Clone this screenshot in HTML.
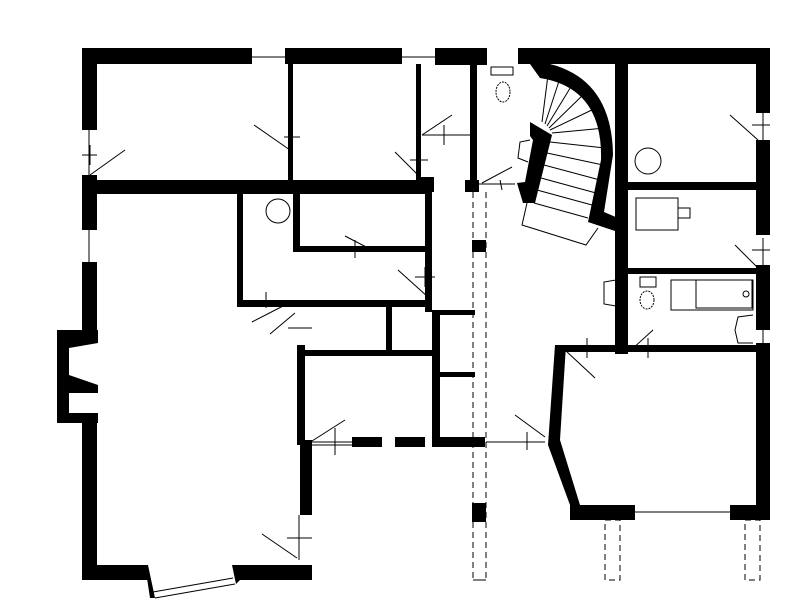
<!DOCTYPE html>
<html><head><meta charset="utf-8"><style>html,body{margin:0;background:#fff}svg{display:block}</style></head>
<body>
<svg width="797" height="600" viewBox="0 0 797 600" xmlns="http://www.w3.org/2000/svg">
<rect width="797" height="600" fill="#fff"/>
<g fill="#000">
<rect x="82" y="48" width="170" height="16"/>
<rect x="285" y="48" width="117" height="16"/>
<rect x="435" y="48" width="52" height="17"/>
<rect x="518" y="48" width="252" height="16"/>
<rect x="756" y="48" width="14" height="65"/>
<rect x="756" y="140" width="14" height="95"/>
<rect x="756" y="265" width="14" height="65"/>
<rect x="756" y="343" width="14" height="177"/>
<rect x="82" y="48" width="15" height="82"/>
<rect x="82" y="175" width="15" height="55"/>
<rect x="82" y="262" width="15" height="68"/>
<rect x="57" y="330" width="41" height="93"/>
<rect x="82" y="420" width="15" height="160"/>
<rect x="82" y="565" width="66" height="15"/>
<polygon points="145,565 148,565 155,598 150,598"/>
<polygon points="232,565 312,565 312,580 240,580 236,584"/>
<rect x="82" y="180" width="350" height="14"/>
<rect x="465" y="180" width="14" height="12"/>
<rect x="288" y="64" width="5" height="116"/>
<rect x="416" y="64" width="5" height="116"/>
<rect x="470" y="64" width="7" height="120"/>
<rect x="416" y="177" width="18" height="15"/>
<path d="M530,64 L550,64 Q612,80 613,155 L604,212 L618,218 L618,232 L588,222 L601,160 Q603,88 540,78 Z"/>
<polygon points="530,122 552,135 535,203 523,203 517,183 525,182 533,140 530,136"/>
<rect x="615" y="64" width="13" height="290"/>
<rect x="628" y="182" width="142" height="8"/>
<rect x="628" y="268" width="142" height="6"/>
<rect x="560" y="345" width="210" height="7"/>
<polygon points="555,345 566,345 560,440 580,505 570,505 548,445"/>
<rect x="570" y="505" width="65" height="15"/>
<rect x="730" y="505" width="40" height="15"/>
<rect x="237" y="192" width="6" height="113"/>
<rect x="237" y="300" width="50" height="7"/>
<rect x="285" y="300" width="145" height="7"/>
<rect x="293" y="192" width="7" height="60"/>
<rect x="293" y="246" width="135" height="6"/>
<rect x="425" y="192" width="7" height="120"/>
<rect x="432" y="310" width="8" height="137"/>
<rect x="386" y="307" width="6" height="45"/>
<rect x="297" y="350" width="143" height="6"/>
<rect x="297" y="345" width="8" height="100"/>
<rect x="300" y="440" width="12" height="75"/>
<rect x="440" y="372" width="35" height="5"/>
<rect x="440" y="437" width="45" height="10"/>
<rect x="352" y="437" width="30" height="10"/>
<rect x="395" y="437" width="30" height="10"/>
<rect x="472" y="240" width="14" height="12"/>
<rect x="472" y="503" width="14" height="19"/>
<rect x="440" y="310" width="35" height="5"/>
</g>
<g fill="#fff">
<polygon points="69,348 98,343 98,385 69,375"/>
<rect x="69" y="393" width="29" height="20"/>
</g>
<g fill="none" stroke="#000" stroke-width="1">
<line x1="473" y1="192" x2="473" y2="580" stroke-dasharray="6,4"/>
<line x1="486" y1="192" x2="486" y2="580" stroke-dasharray="6,4"/>
<line x1="473" y1="580" x2="486" y2="580"/>
<rect x="605" y="520" width="15" height="60" stroke-dasharray="6,4"/>
<rect x="745" y="520" width="15" height="60" stroke-dasharray="6,4"/>
<line x1="542" y1="122" x2="548" y2="75"/><line x1="545" y1="124" x2="560" y2="78"/>
<line x1="547" y1="126" x2="572" y2="85"/><line x1="549" y1="128" x2="585" y2="93"/>
<line x1="550" y1="130" x2="596" y2="108"/><line x1="552" y1="133" x2="605" y2="128"/>
<line x1="550" y1="142" x2="605" y2="148"/><line x1="547" y1="153" x2="603" y2="165"/>
<line x1="544" y1="165" x2="600" y2="180"/><line x1="541" y1="178" x2="596" y2="193"/>
<line x1="537" y1="190" x2="592" y2="205"/><line x1="534" y1="203" x2="588" y2="218"/>
<polyline points="527,203 522,225 586,245 598,228"/>
<line x1="254" y1="125" x2="290" y2="150"/><line x1="284" y1="137" x2="300" y2="137"/><line x1="292" y1="128" x2="292" y2="146"/>
<line x1="125" y1="150" x2="90" y2="175"/><line x1="82" y1="155" x2="97" y2="155"/><line x1="90" y1="145" x2="90" y2="165"/>
<line x1="395" y1="152" x2="418" y2="175"/><line x1="410" y1="160" x2="428" y2="160"/><line x1="420" y1="150" x2="420" y2="170"/>
<line x1="422" y1="135" x2="452" y2="115"/><line x1="422" y1="135" x2="470" y2="135"/><line x1="444" y1="125" x2="444" y2="145"/>
<line x1="482" y1="183" x2="512" y2="167"/><line x1="479" y1="184" x2="515" y2="184"/><line x1="500" y1="180" x2="502" y2="190"/>
<line x1="730" y1="115" x2="758" y2="140"/><line x1="752" y1="125" x2="770" y2="125"/>
<line x1="735" y1="245" x2="758" y2="268"/><line x1="752" y1="250" x2="770" y2="250"/><line x1="763" y1="238" x2="763" y2="268"/>
<line x1="345" y1="236" x2="372" y2="250"/><line x1="355" y1="240" x2="355" y2="258"/>
<line x1="398" y1="270" x2="428" y2="297"/><line x1="415" y1="277" x2="435" y2="277"/><line x1="425" y1="267" x2="425" y2="287"/>
<line x1="252" y1="322" x2="285" y2="305"/><line x1="270" y1="334" x2="295" y2="313"/><line x1="288" y1="328" x2="312" y2="328"/><line x1="266" y1="292" x2="266" y2="308"/>
<line x1="312" y1="441" x2="345" y2="420"/><line x1="335" y1="428" x2="335" y2="455"/><line x1="312" y1="442" x2="352" y2="442"/>
<line x1="262" y1="534" x2="297" y2="558"/><line x1="287" y1="538" x2="312" y2="538"/><line x1="299" y1="515" x2="299" y2="560"/>
<line x1="565" y1="350" x2="595" y2="378"/><line x1="587" y1="338" x2="587" y2="358"/><line x1="568" y1="350" x2="615" y2="350"/>
<line x1="631" y1="350" x2="653" y2="330"/><line x1="648" y1="338" x2="648" y2="358"/>
<line x1="515" y1="415" x2="545" y2="437"/><line x1="486" y1="442" x2="545" y2="442"/><line x1="527" y1="432" x2="527" y2="450"/>
<line x1="155" y1="598" x2="235" y2="584"/><line x1="153" y1="592" x2="233" y2="578"/>
<line x1="635" y1="512" x2="730" y2="512"/>
<line x1="89" y1="130" x2="89" y2="175"/><line x1="89" y1="230" x2="89" y2="262"/>
<line x1="252" y1="57" x2="285" y2="57"/><line x1="402" y1="57" x2="435" y2="57"/>
<line x1="763" y1="113" x2="763" y2="140"/><line x1="763" y1="330" x2="763" y2="343"/>
<line x1="305" y1="445" x2="352" y2="445"/>
<circle cx="278" cy="211" r="12"/>
<circle cx="648" cy="161" r="13"/>
<rect x="636" y="198" width="42" height="32"/><rect x="678" y="208" width="12" height="10"/>
<rect x="671" y="280" width="82" height="30"/><rect x="696" y="280" width="56" height="28"/><circle cx="746" cy="294" r="3"/>
<rect x="491" y="67" width="22" height="8"/><ellipse cx="503" cy="92" rx="7" ry="10" stroke-dasharray="2,1"/>
<rect x="640" y="277" width="16" height="10"/><ellipse cx="647" cy="300" rx="7" ry="9" stroke-dasharray="2,1"/>
<path d="M530,140 L520,142 L518,158 L528,162"/>
<path d="M616,280 L604,282 L604,304 L616,306"/>
<path d="M753,315 L738,317 L735,330 L738,343 L753,343"/>
</g>
</svg>
</body></html>
